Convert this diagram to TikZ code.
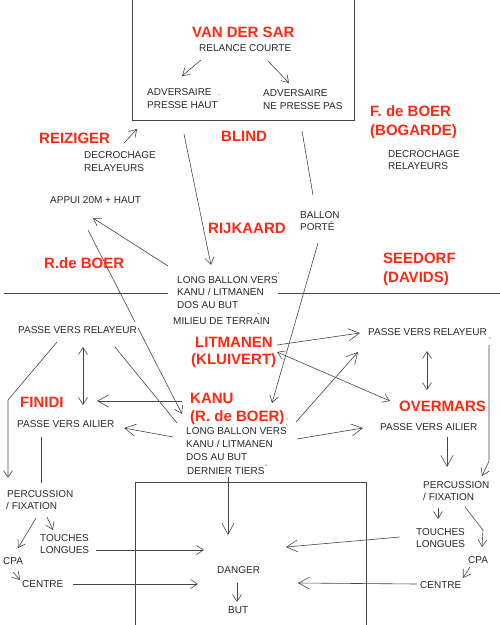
\documentclass[tikz,border=0pt]{standalone}
\usepackage{fontspec}
\setmainfont{Liberation Sans}
\usetikzlibrary{arrows.meta}
\definecolor{redc}{RGB}{255,40,20}
\definecolor{inkc}{RGB}{40,40,40}
\definecolor{linec}{RGB}{70,70,70}
\begin{document}
\begin{tikzpicture}[x=1pt,y=-1pt,
  txt/.style={anchor=base west, inner sep=0pt, font=\fontsize{10}{12}\selectfont, text=inkc},
  mk/.style={anchor=base west, inner sep=0pt, font=\fontsize{7}{8}\selectfont, text=inkc},
  nm/.style={anchor=base west, inner sep=0pt, font=\fontsize{15}{18}\selectfont\bfseries, text=redc},
  ln/.style={draw=linec, line width=0.6pt},
  ar/.style={ln, -{Straight Barb[length=7pt,width=9pt]}},
  arb/.style={ln, -{Straight Barb[length=11pt,width=12pt]}},
  dar/.style={ln, {Straight Barb[length=7pt,width=9pt]}-{Straight Barb[length=7pt,width=9pt]}}]
\useasboundingbox (0,0) rectangle (500,625);

% ---------- coordinates ----------
\coordinate (tb1) at (132,0); \coordinate (tb2) at (132,120);
\coordinate (tb3) at (354,120); \coordinate (tb4) at (354,0);
\coordinate (bb1) at (135,625); \coordinate (bb2) at (135,482);
\coordinate (bb3) at (366,482); \coordinate (bb4) at (366,625);
\coordinate (ml1) at (4,293); \coordinate (ml2) at (168,293);
\coordinate (ml3) at (278,293); \coordinate (ml4) at (500,293);

\coordinate (rcL) at (201,60); \coordinate (advL) at (182,76);
\coordinate (rcR) at (268,61); \coordinate (advR) at (289,83);
\coordinate (reizA) at (124,143); \coordinate (boxBL) at (137,129);
\coordinate (boxB1) at (184,134); \coordinate (lbm) at (211,265);
\coordinate (boxB2) at (302,131); \coordinate (bpTop) at (313,195);
\coordinate (bpBot) at (318,243); \coordinate (kanuT) at (272,403);
\coordinate (lbmL) at (168,266); \coordinate (appuiB) at (93,218);
\coordinate (appuiS) at (88,230); \coordinate (kanuL) at (182,414);
\coordinate (pvrL1) at (115,347); \coordinate (lbdL) at (177,423);
\coordinate (kanuW) at (182,401); \coordinate (finE) at (97,401);
\coordinate (pvrLd) at (83,347); \coordinate (finU) at (83,405);
\coordinate (pvrLs) at (57,342); \coordinate (bendL) at (8,400); \coordinate (percLt) at (8,478);
\coordinate (lbdW) at (173,437); \coordinate (pvaLe) at (124,428);
\coordinate (pvaLb) at (41,437); \coordinate (percLb) at (41,483);
\coordinate (litE) at (277,345); \coordinate (pvrRw) at (360,333);
\coordinate (kluE) at (277,352); \coordinate (ovW) at (390,401);
\coordinate (lbdNE) at (296,422); \coordinate (pvrRsw) at (358,352);
\coordinate (lbdE) at (297,439); \coordinate (pvaRw) at (363,428);
\coordinate (pvrRd) at (427,351); \coordinate (ovU) at (427,390);
\coordinate (pvaRb) at (447,437); \coordinate (percRt) at (447,467);
\coordinate (pvrRe) at (489,345); \coordinate (bendR) at (489,461); \coordinate (percRe) at (482,476);
\coordinate (percLa) at (36,518); \coordinate (cpaLt) at (18,548);
\coordinate (percLc) at (47,517); \coordinate (touLt) at (53,530);
\coordinate (cpaLb) at (13,572); \coordinate (cenLw) at (20,580);
\coordinate (touLe) at (96,550); \coordinate (dngW1) at (204,550);
\coordinate (cenLe) at (73,584); \coordinate (dngW2) at (198,584);
\coordinate (dtB) at (228,477); \coordinate (dngN) at (228,535);
\coordinate (dngS) at (237,583); \coordinate (butN) at (237,602);
\coordinate (percRb) at (438,508); \coordinate (touRt) at (438,519);
\coordinate (percRc) at (465,507); \coordinate (bendR2) at (483,530); \coordinate (cpaRt) at (482,547);
\coordinate (touRw) at (400,537); \coordinate (dngE1) at (286,547);
\coordinate (cpaRb) at (470,567); \coordinate (cenRt) at (463,578);
\coordinate (cenRw) at (417,584); \coordinate (dngE2) at (298,583);

% ---------- frames and half-way line ----------
\draw[ln] (tb1) -- (tb2) -- (tb3) -- (tb4);
\draw[ln] (bb1) -- (bb2) -- (bb3) -- (bb4);
\draw[ln] (ml1) -- (ml2);
\draw[ln] (ml3) -- (ml4);

% ---------- connectors ----------
\draw[ar] (rcL) -- (advL);
\draw[ar] (rcR) -- (advR);
\draw[ar] (reizA) -- (boxBL);
\draw[ar] (boxB1) -- (lbm);
\draw[ln] (boxB2) -- (bpTop);
\draw[ar] (bpBot) -- (kanuT);
\draw[ar] (lbmL) -- (appuiB);
\draw[ar] (appuiS) -- (kanuL);
\draw[ln] (pvrL1) -- (lbdL);
\draw[arb] (kanuW) -- (finE);
\draw[dar] (pvrLd) -- (finU);
\draw[ar] (pvrLs) -- (bendL) -- (percLt);
\draw[arb] (lbdW) -- (pvaLe);
\draw[ln] (pvaLb) -- (percLb);
\draw[arb] (litE) -- (pvrRw);
\draw[dar] (kluE) -- (ovW);
\draw[arb] (lbdNE) -- (pvrRsw);
\draw[arb] (lbdE) -- (pvaRw);
\draw[dar] (pvrRd) -- (ovU);
\draw[arb] (pvaRb) -- (percRt);
\draw[ar] (pvrRe) -- (bendR) -- (percRe);
\draw[ar] (percLa) -- (cpaLt);
\draw[ar] (percLc) -- (touLt);
\draw[ar] (cpaLb) -- (cenLw);
\draw[ar] (touLe) -- (dngW1);
\draw[ar] (cenLe) -- (dngW2);
\draw[arb] (dtB) -- (dngN);
\draw[ar] (dngS) -- (butN);
\draw[ar] (percRb) -- (touRt);
\draw[ar] (percRc) -- (bendR2) -- (cpaRt);
\draw[arb] (touRw) -- (dngE1);
\draw[ar] (cpaRb) -- (cenRt);
\draw[arb] (cenRw) -- (dngE2);

% ---------- player names ----------
\node[nm] (vds) at (192,37.7) {VAN DER SAR};
\node[nm] (fdb) at (370,116.4) {F. de BOER};
\node[nm] (bog) at (370,135.4) {(BOGARDE)};
\node[nm] (rei) at (39,143) {REIZIGER};
\node[nm] (bli) at (221,141.4) {BLIND};
\node[nm] (rij) at (208,233.7) {RIJKAARD};
\node[nm] (rdb) at (44,268) {R.de BOER};
\node[nm] (see) at (383,263.7) {SEEDORF};
\node[nm] (dav) at (383,282.7) {(DAVIDS)};
\node[nm] (lit) at (195,347) {LITMANEN};
\node[nm] (klu) at (191,364.7) {(KLUIVERT)};
\node[nm] (kan) at (190,403) {KANU};
\node[nm] (rdb2) at (190,421.4) {(R. de BOER)};
\node[nm] (fin) at (20,407) {FINIDI};
\node[nm] (ovm) at (399,411) {OVERMARS};

% ---------- texts ----------
\node[txt] (rc) at (199,51.6) {RELANCE COURTE};
\node[txt] (advA1) at (147,95.6) {ADVERSAIRE};
\node[mk] (dotA) at (218,95.6) {.};
\node[txt] (advA2) at (147,108) {PRESSE HAUT};
\node[txt] (advB1) at (263,96.6) {ADVERSAIRE};
\node[txt] (advB2) at (263,109.5) {NE PRESSE PAS};
\node[txt] (decL1) at (84,158.6) {DECROCHAGE};
\node[txt] (decL2) at (84,171.6) {RELAYEURS};
\node[txt] (decR1) at (388,157.6) {DECROCHAGE};
\node[txt] (decR2) at (388,169.6) {RELAYEURS};
\node[txt] (app) at (50,203) {APPUI 20M + HAUT};
\node[txt] (bp1) at (300,218.3) {BALLON};
\node[txt] (bp2) at (300,230.3) {PORTÉ};
\node[txt] (lbm1) at (177,283) {LONG BALLON VERS};
\node[mk] (tickA) at (278,277) {'};
\node[txt] (lbm2) at (177,295.6) {KANU / LITMANEN};
\node[txt] (lbm3) at (177,308) {DOS AU BUT};
\node[txt] (mil) at (173,324.3) {MILIEU DE TERRAIN};
\node[mk] (dashA) at (257,315) {-};
\node[txt, fill=white, inner xsep=1pt, inner ysep=5pt] (pvrL) at (17,333.6) {PASSE VERS RELAYEUR};
\node[txt] (pvrR) at (368,335.3) {PASSE VERS RELAYEUR};
\node[mk] (commaA) at (489,338) {,};
\node[txt] (pvaL) at (17,427.6) {PASSE VERS AILIER};
\node[mk] (commaB) at (286,419) {,};
\node[txt] (lbd1) at (186,434.6) {LONG BALLON VERS};
\node[mk] (tickB) at (286,429) {'};
\node[txt] (lbd2) at (186,447) {KANU / LITMANEN};
\node[txt] (lbd3) at (186,460.3) {DOS AU BUT};
\node[txt] (der) at (187,474.6) {DERNIER TIERS};
\node[mk] (dashB) at (265,467) {-};
\node[txt] (pvaR) at (380,430.3) {PASSE VERS AILIER};
\node[txt] (percL1) at (7,497.6) {PERCUSSION};
\node[txt] (percL2) at (6,509.3) {/ FIXATION};
\node[txt] (touL1) at (40,541) {TOUCHES};
\node[txt] (touL2) at (40,553.6) {LONGUES};
\node[txt] (cpaL) at (3,564.3) {CPA};
\node[txt] (cenL) at (22,587) {CENTRE};
\node[txt] (dng) at (217,573) {DANGER};
\node[txt] (but) at (228,613.6) {BUT};
\node[txt] (percR1) at (423,488) {PERCUSSION};
\node[txt] (percR2) at (423,500.3) {/ FIXATION};
\node[txt] (touR1) at (416,535.3) {TOUCHES};
\node[txt] (touR2) at (416,547) {LONGUES};
\node[txt] (cpaR) at (468,563) {CPA};
\node[txt] (cenR) at (420,588.6) {CENTRE};
\end{tikzpicture}
\end{document}
